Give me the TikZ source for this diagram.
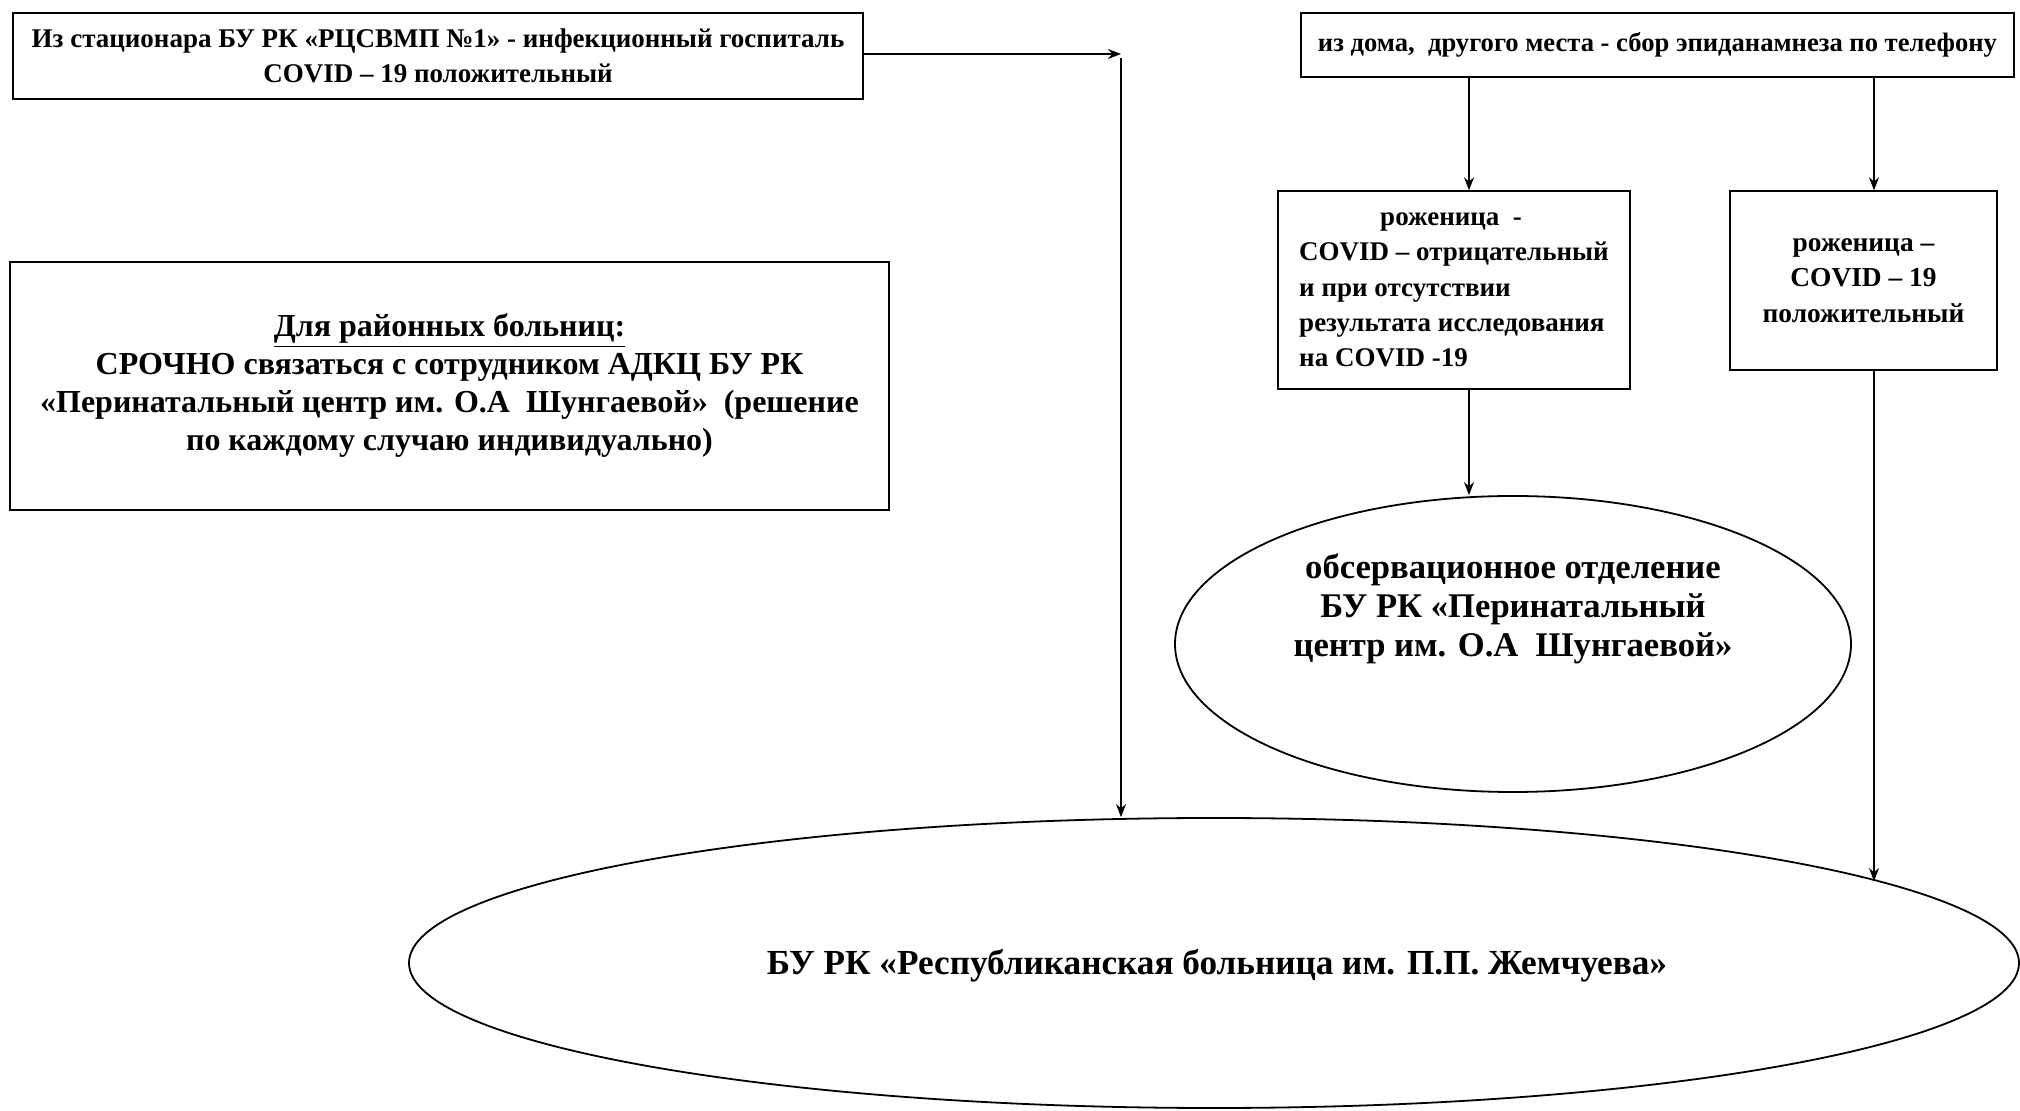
\documentclass[tikz,border=0pt]{standalone}
\usepackage{fontspec}
\setmainfont{Liberation Serif}
\usetikzlibrary{shapes.geometric,arrows.meta}
\tikzset{
  boxnode/.style={draw, line width=0.7pt, rectangle, inner sep=0pt, font=\bfseries},
  ovalnode/.style={draw, ellipse, line width=0.9pt, inner sep=0pt},
  txt/.style={inner sep=0pt, font=\bfseries, align=center},
  arr/.style={-{Stealth[length=6.5pt,width=5pt]}, line width=0.65pt}
}
\begin{document}
\begin{tikzpicture}[x=0.5pt,y=-0.5pt]
\useasboundingbox (0,0) rectangle (2020,1111);
% boxes
\node[boxnode, minimum width=425pt, minimum height=43pt, align=center,
      font=\bfseries\fontsize{13.5pt}{17.5pt}\selectfont] (tl) at (438,56)
  {Из стационара БУ РК «РЦСВМП №1» - инфекционный госпиталь\\COVID – 19 положительный};
\node[boxnode, minimum width=356.5pt, minimum height=32pt,
      font=\bfseries\fontsize{13.3pt}{16pt}\selectfont] (tr) at (1657.5,45)
  {из дома,\ \ другого места - сбор эпиданамнеза по телефону};
\node[boxnode, minimum width=176pt, minimum height=99pt, align=left,
      font=\bfseries\fontsize{13.5pt}{17.7pt}\selectfont] (m1) at (1454,290)
  {\hspace*{3em}роженица\ \ -\\COVID – отрицательный\\и при отсутствии\\результата исследования\\на COVID -19};
\node[boxnode, minimum width=133.5pt, minimum height=89.5pt, align=center,
      font=\bfseries\fontsize{13.7pt}{17.7pt}\selectfont] (m2) at (1863.5,280.5)
  {роженица –\\COVID – 19\\положительный};
\node[boxnode, minimum width=439.5pt, minimum height=124pt, align=center,
      font=\bfseries\fontsize{16pt}{19pt}\selectfont] (lb) at (449.5,386)
  {\underline{Для районных больниц:}\\СРОЧНО связаться с сотрудником АДКЦ БУ РК\\«Перинатальный центр им. О.А\ \ Шунгаевой»\ \ (решение\\по каждому случаю индивидуально)};
% ellipses
\node[ovalnode, minimum width=338pt, minimum height=148pt] (obs) at (1513,644) {};
\node[txt, font=\bfseries\fontsize{17.3pt}{19.5pt}\selectfont] (obstext) at (1513,609)
  {обсервационное отделение\\БУ РК «Перинатальный\\центр им. О.А\ \ Шунгаевой»};
\node[ovalnode, minimum width=805pt, minimum height=145pt] (big) at (1214,963) {};
\node[txt, font=\bfseries\fontsize{17.6pt}{21pt}\selectfont] (bigtext) at (1217,966)
  {БУ РК «Республиканская больница им. П.П. Жемчуева»};
% connectors
\coordinate (j) at (1121,54);
\coordinate (a1) at (1469,0);
\coordinate (a2) at (1874,0);
\draw[arr] (tl.east |- j) -- (j);
\draw[arr] ([yshift=-2pt]j) -- (j |- big.north);
\draw[arr] (tr.south -| a1) -- (m1.north -| a1);
\draw[arr] (tr.south -| a2) -- (m2.north -| a2);
\draw[arr] (m1.south -| a1) -- (obs.north -| a1);
\draw[arr] (m2.south -| a2) -- (a2 |- big.7.2);
\end{tikzpicture}
\end{document}
